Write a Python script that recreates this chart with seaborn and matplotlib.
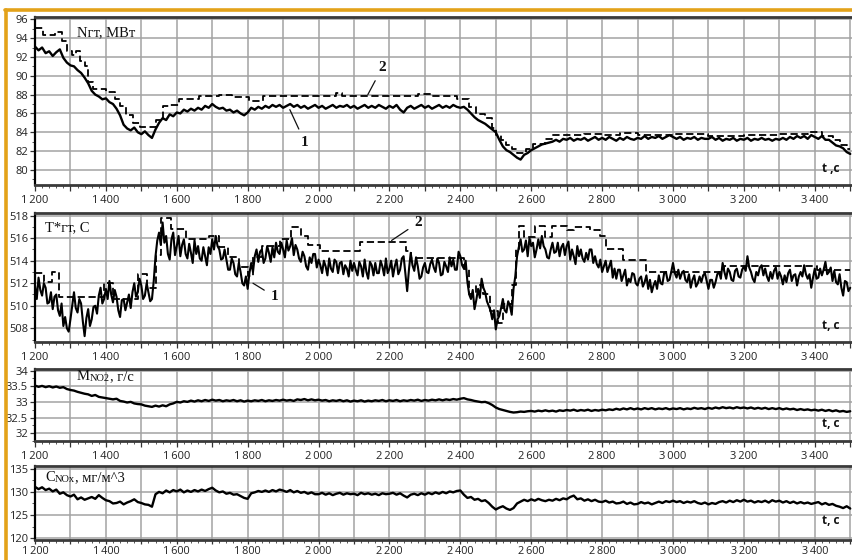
import numpy as np
import pandas as pd
import matplotlib
matplotlib.use("Agg")
import matplotlib.pyplot as plt
from matplotlib.ticker import MultipleLocator, FuncFormatter
from matplotlib.lines import Line2D
import seaborn as sns

# ---------------- data ----------------
t_start, t_end, t_step = 1200, 3500, 10
time_s = np.arange(t_start, t_end + 1, t_step)
time_mid = np.arange(t_start + 5, t_end, t_step)

# Panel 1: gas turbine power Nгт, MW (1 = measured, 2 = model, stepwise)
n_gt_1 = [
    93.1, 92.7, 93.0, 92.4, 92.6, 92.1, 92.5, 92.8, 91.9, 91.4,
    91.1, 91.0, 90.6, 90.3, 89.8, 89.2, 88.4, 88.0, 87.8, 87.5,
    87.6, 87.2, 87.0, 86.5, 85.8, 84.8, 84.4, 84.2, 84.5, 84.0,
    83.8, 84.1, 83.7, 83.4, 84.3, 85.0, 85.5, 85.3, 85.9, 85.7,
    86.1, 86.0, 86.4, 86.2, 86.5, 86.3, 86.6, 86.4, 86.8, 86.6,
    87.0, 86.7, 86.5, 86.6, 86.3, 86.4, 86.1, 86.3, 86.0, 85.8,
    86.1, 86.6, 86.4, 86.7, 86.5, 86.8, 86.6, 86.9, 86.7, 86.9,
    86.6, 86.8, 87.0, 86.7, 86.9, 86.6, 86.8, 86.5, 86.7, 86.9,
    86.6, 86.8, 86.5, 86.7, 86.9, 86.6, 86.8, 86.7, 86.9, 86.6,
    86.8, 86.5, 86.7, 86.9, 86.6, 86.8, 86.6, 86.9, 86.7, 86.5,
    86.8, 86.6, 86.9, 86.4, 86.1, 86.6, 86.8, 86.5, 86.7, 86.9,
    86.6, 86.8, 86.5, 86.7, 86.9, 86.6, 86.8, 86.6, 86.9, 86.7,
    86.6, 86.7, 86.4, 86.0, 85.6, 85.3, 85.1, 84.9, 84.6, 84.3,
    84.0, 83.2, 82.5, 82.1, 81.9, 81.6, 81.3, 81.1, 81.6, 81.8,
    82.1, 82.3, 82.5, 82.7, 82.8, 82.9, 83.0, 83.2, 83.0, 83.3,
    83.2, 83.4, 83.1, 83.3, 83.2, 83.4, 83.1, 83.3, 83.5, 83.2,
    83.4, 83.2, 83.5, 83.3, 83.1, 83.4, 83.2, 83.5, 83.3, 83.2,
    83.4, 83.3, 83.6, 83.3, 83.5, 83.4, 83.6, 83.3, 83.5, 83.7,
    83.5, 83.3, 83.5, 83.2, 83.4, 83.3, 83.5, 83.2, 83.4, 83.3,
    83.3, 83.5, 83.2, 83.4, 83.1, 83.3, 83.2, 83.4, 83.1, 83.3,
    83.2, 83.4, 83.1, 83.3, 83.2, 83.4, 83.2, 83.3, 83.1, 83.3,
    83.2, 83.4, 83.2, 83.5, 83.3, 83.6, 83.4, 83.6, 83.3, 83.7,
    83.5, 83.3, 83.6, 83.2, 83.2, 82.9, 82.6, 82.5, 82.3, 81.9,
    81.7,
]
n_gt_2_t = [1200, 1222, 1256, 1275, 1289, 1305, 1317, 1326, 1340, 1350,
            1364, 1400, 1425, 1439, 1458, 1476, 1495, 1540, 1560, 1579,
            1607, 1663, 1720, 1757, 1804, 1842, 2048, 2066, 2280, 2320,
            2345, 2390, 2425, 2445, 2470, 2488, 2500, 2515, 2530, 2545,
            2560, 2585, 2605, 2640, 2660, 2750, 2800, 2850, 2900, 3000,
            3100, 3200, 3300, 3380, 3420, 3450, 3470, 3490, 3500]
n_gt_2_v = [95.1, 94.3, 94.6, 93.7, 92.6, 92.2, 92.6, 91.6, 91.0, 89.3,
            88.6, 88.3, 87.5, 86.8, 85.8, 85.0, 84.6, 85.3, 86.8, 86.9,
            87.5, 87.8, 88.0, 87.7, 87.3, 87.9, 88.2, 87.8, 88.1, 87.8,
            87.8, 87.5, 86.7, 85.9, 85.5, 84.4, 83.7, 83.2, 82.6, 82.2,
            81.8, 82.2, 82.8, 83.3, 83.7, 83.8, 83.7, 83.9, 83.7, 83.8,
            83.6, 83.7, 83.8, 84.0, 83.6, 83.2, 82.6, 82.2, 82.2]

# Panel 2: gas temperature T*гт, C  (readings at whole and half steps)
t_gt_1 = [
    511.8, 512.5, 510.9, 511.6, 510.3, 509.7, 511.0, 509.1, 508.2, 508.0,
    508.8, 511.2, 509.4, 510.2, 507.3, 509.7, 508.8, 510.0, 510.9, 510.2,
    511.5, 512.2, 510.3, 510.8, 509.0, 510.6, 510.3, 509.8, 512.0, 511.2,
    511.8, 510.9, 511.2, 510.6, 514.4, 516.5, 517.4, 516.2, 514.1, 516.5,
    515.3, 514.4, 515.9, 514.2, 514.7, 515.8, 515.3, 514.0, 514.4, 515.2,
    515.9, 516.2, 515.0, 514.2, 514.1, 513.2, 513.8, 512.6, 513.0, 511.8,
    511.5, 513.8, 514.4, 513.9, 515.0, 514.2, 514.7, 515.2, 515.6, 514.6,
    515.0, 515.8, 515.3, 514.5, 515.0, 513.9, 514.4, 513.2, 513.8, 514.6,
    514.1, 512.9, 513.5, 514.2, 513.0, 513.9, 513.8, 512.8, 513.3, 514.0,
    513.8, 512.7, 513.5, 514.1, 512.4, 513.6, 513.8, 512.9, 513.5, 514.2,
    513.3, 512.6, 514.1, 513.2, 514.4, 511.3, 514.7, 513.1, 513.5, 512.6,
    513.8, 512.9, 514.1, 513.0, 513.8, 512.8, 513.5, 514.3, 514.1, 513.2,
    514.4, 513.3, 512.1, 510.6, 509.7, 511.5, 512.4, 511.2, 510.0, 508.8,
    507.9, 509.1, 510.6, 509.4, 510.0, 511.5, 514.4, 515.9, 515.0, 514.4,
    515.3, 514.3, 515.9, 516.2, 515.0, 514.2, 515.6, 514.8, 514.4, 515.5,
    515.3, 514.1, 514.4, 515.3, 515.0, 513.9, 514.1, 515.0, 514.4, 513.4,
    513.0, 514.0, 513.5, 512.5, 512.4, 513.2, 512.7, 511.8, 512.1, 512.8,
    511.8, 512.6, 512.1, 511.5, 511.2, 512.2, 512.7, 511.9, 513.0, 512.3,
    513.8, 512.5, 512.4, 513.1, 512.1, 511.6, 512.7, 512.0, 512.1, 512.9,
    511.5, 512.3, 512.1, 513.0, 513.8, 512.4, 513.0, 512.2, 513.3, 512.5,
    513.5, 514.4, 513.0, 512.1, 512.7, 513.6, 513.3, 512.2, 512.4, 513.4,
    513.0, 511.9, 512.1, 513.2, 512.7, 511.8, 513.0, 513.6, 512.4, 511.6,
    513.3, 512.5, 512.7, 513.9, 513.0, 512.2, 512.1, 512.8, 510.9, 512.1,
    511.6,
]
t_gt_1_mid = [
    510.6, 511.4, 512.0, 510.2, 511.2, 510.8, 509.6, 510.2, 509.0, 507.7,
    510.0, 509.8, 510.6, 508.6, 508.9, 508.2, 509.9, 509.3, 511.6, 510.6,
    510.6, 511.0, 511.4, 509.6, 510.5, 509.6, 511.0, 511.2, 510.8, 512.4,
    510.6, 512.0, 510.4, 512.2, 515.8, 515.4, 515.6, 514.6, 515.9, 514.5,
    516.2, 515.4, 514.6, 515.5, 513.8, 514.6, 514.2, 515.2, 513.6, 514.6,
    515.0, 515.3, 514.1, 515.0, 513.2, 514.2, 512.8, 513.8, 512.0, 512.6,
    512.9, 513.0, 515.0, 514.8, 513.8, 515.3, 513.9, 514.3, 514.8, 515.6,
    514.3, 514.9, 516.0, 515.4, 514.2, 514.8, 513.5, 514.3, 514.6, 513.4,
    513.6, 514.0, 512.7, 513.3, 514.1, 512.9, 513.9, 513.6, 512.6, 513.1,
    513.2, 513.9, 512.6, 513.0, 513.9, 512.7, 512.9, 514.0, 512.7, 512.9,
    514.0, 513.5, 512.8, 514.2, 512.8, 513.2, 513.6, 514.3, 512.4, 513.4,
    513.0, 513.7, 513.4, 514.2, 512.7, 513.9, 513.0, 513.5, 513.2, 514.8,
    513.6, 514.0, 511.0, 511.4, 510.5, 510.7, 511.6, 510.4, 509.6, 509.6,
    508.8, 509.8, 509.6, 510.4, 509.2, 512.6, 515.2, 514.8, 515.8, 516.0,
    515.6, 515.0, 515.1, 515.3, 514.3, 515.0, 514.7, 515.6, 515.2, 514.5,
    515.7, 515.0, 513.7, 514.4, 514.2, 514.7, 515.0, 513.8, 513.7, 514.1,
    513.5, 513.0, 514.0, 513.3, 513.2, 512.2, 513.2, 512.4, 512.9, 512.0,
    512.4, 511.7, 512.7, 512.3, 511.8, 511.5, 512.0, 512.9, 512.2, 513.0,
    512.9, 513.2, 512.9, 512.3, 512.8, 512.3, 511.7, 512.6, 512.7, 512.2,
    512.3, 511.6, 512.8, 512.4, 513.0, 513.3, 512.3, 513.1, 512.6, 513.2,
    513.1, 513.4, 512.4, 513.0, 513.4, 512.7, 512.6, 513.0, 513.1, 512.4,
    512.6, 512.7, 512.9, 512.2, 512.8, 512.6, 512.6, 512.8, 512.8, 512.5,
    512.4, 513.3, 513.2, 512.8, 513.4, 513.1, 511.9, 511.6, 512.2, 511.3,
]
t_gt_2_t = [1200, 1225, 1248, 1268, 1395, 1420, 1490, 1515, 1540, 1555,
            1585, 1625, 1690, 1720, 1745, 1775, 1800, 1815, 1840, 1890,
            1922, 1950, 1970, 2005, 2117, 2248, 2262, 2410, 2425, 2445,
            2465, 2485, 2505, 2520, 2545, 2558, 2565, 2580, 2610, 2640,
            2660, 2700, 2720, 2765, 2795, 2810, 2860, 2925, 3143, 3405,
            3500]
t_gt_2_v = [512.9, 512.1, 513.0, 510.8, 512.0, 510.6, 512.8, 511.6, 514.5, 517.8,
            516.8, 515.9, 516.2, 515.2, 514.3, 513.4, 512.6, 514.3, 515.3, 515.9,
            517.0, 516.2, 515.4, 514.9, 515.7, 514.9, 514.2, 513.3, 511.0, 511.8,
            511.0, 509.5, 508.5, 510.2, 511.8, 515.0, 517.1, 516.1, 517.1, 516.1,
            517.1, 516.7, 517.0, 516.7, 516.2, 515.0, 514.1, 513.0, 513.5, 513.2,
            513.2]

# Panel 3: NO2 mass flow, g/s
m_no2 = [
    33.52, 33.48, 33.51, 33.47, 33.50, 33.46, 33.49, 33.45, 33.47, 33.41,
    33.38, 33.36, 33.32, 33.29, 33.26, 33.24, 33.19, 33.22, 33.16, 33.14,
    33.12, 33.10, 33.08, 33.10, 33.03, 33.01, 32.98, 33.00, 32.95, 32.93,
    32.92, 32.88, 32.86, 32.84, 32.88, 32.85, 32.89, 32.86, 32.92, 32.95,
    33.00, 32.98, 33.02, 33.00, 33.04, 33.01, 33.05, 33.02, 33.06, 33.03,
    33.07, 33.04, 33.06, 33.02, 33.05, 33.03, 33.06, 33.02, 33.05, 33.01,
    33.04, 33.02, 33.05, 33.03, 33.06, 33.02, 33.05, 33.03, 33.06, 33.04,
    33.07, 33.04, 33.06, 33.03, 33.08, 33.06, 33.09, 33.05, 33.08, 33.05,
    33.07, 33.04, 33.06, 33.02, 33.05, 33.03, 33.06, 33.02, 33.05, 33.01,
    33.04, 33.02, 33.05, 33.01, 33.04, 33.02, 33.05, 33.03, 33.06, 33.02,
    33.05, 33.03, 33.06, 33.02, 33.05, 33.03, 33.06, 33.04, 33.07, 33.03,
    33.06, 33.04, 33.07, 33.05, 33.08, 33.05, 33.08, 33.06, 33.09, 33.07,
    33.10, 33.12, 33.08, 33.06, 33.03, 33.01, 32.99, 33.00, 32.96, 32.90,
    32.82, 32.77, 32.74, 32.71, 32.68, 32.66, 32.67, 32.69, 32.68, 32.70,
    32.71, 32.69, 32.72, 32.70, 32.73, 32.70, 32.72, 32.69, 32.73, 32.71,
    32.74, 32.72, 32.75, 32.71, 32.74, 32.72, 32.75, 32.71, 32.74, 32.72,
    32.75, 32.73, 32.76, 32.74, 32.78, 32.75, 32.79, 32.76, 32.80, 32.76,
    32.79, 32.76, 32.80, 32.77, 32.80, 32.76, 32.79, 32.77, 32.80, 32.76,
    32.79, 32.77, 32.80, 32.76, 32.79, 32.77, 32.81, 32.78, 32.80, 32.77,
    32.81, 32.78, 32.82, 32.79, 32.83, 32.80, 32.82, 32.79, 32.83, 32.80,
    32.82, 32.79, 32.82, 32.78, 32.81, 32.78, 32.81, 32.77, 32.80, 32.77,
    32.80, 32.76, 32.79, 32.76, 32.78, 32.74, 32.77, 32.74, 32.76, 32.73,
    32.75, 32.72, 32.75, 32.71, 32.74, 32.70, 32.73, 32.69, 32.71, 32.68,
    32.70,
]

# Panel 4: NOx concentration, mg/m^3
c_nox = [
    131.1, 130.6, 131.0, 130.4, 130.7, 130.1, 130.5, 129.6, 129.9, 129.3,
    129.0, 129.4, 128.4, 128.8, 128.3, 128.6, 128.9, 128.5, 129.3, 128.7,
    128.2, 128.0, 127.5, 127.6, 127.9, 127.3, 127.7, 128.0, 128.4, 127.8,
    127.6, 127.3, 127.2, 126.8, 129.5, 130.0, 129.7, 130.3, 129.9, 130.4,
    130.1, 130.5, 129.9, 130.3, 130.0, 130.4, 130.1, 130.5, 130.2, 130.6,
    130.9, 130.3, 129.9, 130.1, 129.6, 129.8, 129.4, 129.5, 129.1, 128.7,
    128.5, 129.7, 129.9, 130.2, 130.0, 130.3, 130.0, 130.4, 130.1, 130.5,
    130.3, 130.0, 130.4, 129.9, 130.2, 129.8, 130.0, 129.6, 129.9, 129.5,
    129.5, 129.8, 129.4, 129.7, 129.3, 129.6, 129.8, 129.4, 129.7, 129.5,
    129.6, 129.3, 129.8, 129.5, 129.7, 129.4, 129.6, 129.3, 129.7, 129.5,
    129.6, 129.8, 129.4, 129.7, 129.2, 128.8, 129.4, 129.6, 129.3, 129.7,
    129.4, 129.8, 129.5, 129.9, 129.6, 130.0, 129.7, 130.1, 129.9, 130.2,
    130.3, 129.4, 128.7, 128.9, 128.3, 128.5, 128.0, 128.2, 127.6, 126.8,
    126.2, 126.6, 126.9, 126.4, 126.1, 126.5, 127.5, 127.9, 128.3, 128.0,
    128.4, 128.1, 128.5, 128.2, 128.0, 128.3, 128.1, 128.5, 128.2, 128.6,
    128.4, 128.9, 129.2, 128.4, 128.6, 128.1, 128.4, 128.0, 128.3, 127.9,
    127.8, 128.1, 127.7, 127.9, 127.5, 127.6, 127.9, 127.4, 127.7, 127.3,
    127.4, 127.8, 127.5, 127.7, 127.3, 127.6, 127.9, 127.6, 128.0, 127.8,
    128.1, 127.8, 128.0, 127.6, 127.9, 127.7, 128.0, 127.6, 127.4, 127.7,
    127.3, 127.6, 127.4, 127.8, 128.0, 127.7, 128.1, 127.8, 128.2, 127.9,
    128.3, 127.9, 128.1, 127.7, 128.0, 127.8, 128.1, 127.7, 128.2, 127.9,
    128.1, 127.7, 128.0, 127.6, 127.9, 127.5, 127.8, 127.5, 127.7, 127.4,
    127.6, 127.8, 127.3, 127.6, 127.2, 127.4, 127.0, 126.8, 126.5, 126.9,
    126.4,
]

panel_titles = ["Nгт, МВт", "T*гт, С", ("M", "NO2", ", г/с"), ("C", "NOx", ", мг/м^3")]
axis_labels = ["t ,c", "t, c", "t, c", "t, c"]
y_ticks = [[80, 82, 84, 86, 88, 90, 92, 94, 96],
           [508, 510, 512, 514, 516, 518],
           [32, 32.5, 33, 33.5, 34],
           [120, 125, 130, 135]]
y_limits = [(78.4, 96.24), (506.78, 518.24), (31.75, 34.05), (119.6, 135.6)]
y_minor = [1, 1, 0.25, 2.5]

# ---------------- style ----------------
sns.set_theme(style="white")
plt.rcParams["font.family"] = ["Open Sans", "DejaVu Sans"]
SERIF = ["Liberation Serif", "DejaVu Serif"]
GRID = "#a3a3a3"

fig = plt.figure(figsize=(8.52, 5.6), dpi=100)
fig.patch.set_facecolor("white")

H = 560.0
L = 35 / 852
W = 1 - L
panel_px = [(17, 185), (213, 342), (369, 441), (466, 540)]
axes = []
for top, bot in panel_px:
    ax = fig.add_axes([L, (H - bot) / H, W, (bot - top) / H])
    axes.append(ax)

def xfmt(x, pos):
    xi = int(round(x))
    if xi % 200 == 0:
        return f"{xi:,}".replace(",", "\u2009")
    return ""

def yfmt(y, pos):
    return f"{y:g}"

for i, ax in enumerate(axes):
    last = i == 3
    ax.set_facecolor("white")
    ax.set_xlim(1200, 3505)
    ax.set_ylim(*y_limits[i])
    ax.xaxis.set_major_locator(MultipleLocator(100))
    ax.xaxis.set_minor_locator(MultipleLocator(20))
    ax.xaxis.set_major_formatter(FuncFormatter(xfmt))
    ax.set_yticks(y_ticks[i])
    ax.yaxis.set_minor_locator(MultipleLocator(y_minor[i]))
    ax.yaxis.set_major_formatter(FuncFormatter(yfmt))
    ax.grid(True, which="major", color=GRID, lw=1.1)
    ax.tick_params(axis="x", which="major", direction="out",
                   length=3 if last else 4, width=0.9,
                   color="#333333", labelsize=7.8 if last else 8,
                   labelcolor="#222222", pad=1 if last else 3)
    ax.tick_params(axis="x", which="minor", direction="out", length=2.5, width=0.7,
                   color="#555555")
    ax.tick_params(axis="y", which="major", direction="out", length=3.5, width=0.9,
                   color="#333333", labelsize=8, labelcolor="#222222", pad=1.5)
    ax.tick_params(axis="y", which="minor", direction="out", length=2, width=0.7,
                   color="#555555")
    ax.tick_params(bottom=True, left=True, which="both")
    for s in ["top", "bottom"]:
        ax.spines[s].set_color("#3a3a3a")
        ax.spines[s].set_linewidth(2.0)
    ax.spines["left"].set_color("black")
    ax.spines["left"].set_linewidth(1.6)
    ax.spines["right"].set_visible(False)

# ---------------- lines ----------------
df_temp = pd.concat([
    pd.DataFrame({"t": time_s, "v": t_gt_1}),
    pd.DataFrame({"t": time_mid, "v": t_gt_1_mid}),
]).sort_values("t")

solid_frames = [
    pd.DataFrame({"t": time_s, "v": n_gt_1}),
    df_temp,
    pd.DataFrame({"t": time_s, "v": m_no2}),
    pd.DataFrame({"t": time_s, "v": c_nox}),
]
lws = [1.7, 1.5, 1.7, 1.7]
for i, ax in enumerate(axes):
    sns.lineplot(data=solid_frames[i], x="t", y="v", ax=ax, color="black", lw=lws[i],
                 estimator=None, sort=True, legend=False, zorder=3)

for ax, tt, vv in [(axes[0], n_gt_2_t, n_gt_2_v), (axes[1], t_gt_2_t, t_gt_2_v)]:
    df = pd.DataFrame({"t": tt, "v": vv})
    sns.lineplot(data=df, x="t", y="v", ax=ax, color="black", lw=1.3,
                 estimator=None, legend=False, drawstyle="steps-post",
                 linestyle=(0, (4, 2)), zorder=4)

for ax in axes:
    ax.set_xlabel("")
    ax.set_ylabel("")

# ---------------- texts ----------------
renderer = fig.canvas.get_renderer()
title_pos = [(0.0514, 0.905), (0.0122, 0.885), (0.0514, 0.89), (0.0122, 0.84)]
for i, ax in enumerate(axes):
    x, y = title_pos[i]
    tl = panel_titles[i]
    if isinstance(tl, str):
        ax.text(x, y, tl, transform=ax.transAxes, family=SERIF, fontsize=10.5,
                ha="left", va="center", color="#111111", zorder=6)
    else:
        t1 = ax.text(x, y, tl[0], transform=ax.transAxes, family=SERIF, fontsize=10.5,
                     ha="left", va="center", color="#111111", zorder=6)
        t2 = ax.annotate(tl[1], xy=(1.0, 0.0), xycoords=t1, family=SERIF, fontsize=7.5,
                         ha="left", va="bottom", color="#111111", zorder=6)
        ax.annotate(tl[2], xy=(1.0, 0.0), xycoords=t1,
                    xytext=(t2.get_window_extent(renderer).width, 0),
                    textcoords="offset pixels", family=SERIF, fontsize=10.5,
                    ha="left", va="bottom", color="#111111", zorder=6)

xl_pos = [(0.985, 0.06), (0.985, 0.075), (0.985, 0.15), (0.985, 0.17)]
for i, ax in enumerate(axes):
    x, y = xl_pos[i]
    ax.text(x, y, axis_labels[i], transform=ax.transAxes, fontsize=8.5,
            fontweight="bold", ha="right", va="bottom", color="#111111", zorder=6)

# curve labels with leader lines
lbl = dict(family=SERIF, fontsize=11, fontweight="bold", color="#111111",
           ha="center", va="center",
           arrowprops=dict(arrowstyle="-", lw=0.9, color="#111111", shrinkA=3, shrinkB=0))
axes[0].annotate("2", xy=(2139, 88.0), xytext=(2180, 90.9), **lbl)
axes[0].annotate("1", xy=(1919, 86.4), xytext=(1962, 82.9), **lbl)
axes[1].annotate("2", xy=(2206, 515.8), xytext=(2282, 517.4), **lbl)
axes[1].annotate("1", xy=(1815, 512.0), xytext=(1877, 510.8), **lbl)

# orange frame of the figure
fig.add_artist(Line2D([5 / 852, 1.0], [1 - 10 / H, 1 - 10 / H], transform=fig.transFigure,
                      color="#e3a21a", lw=2.6))
fig.add_artist(Line2D([6 / 852, 6 / 852], [0.0, 1 - 10 / H], transform=fig.transFigure,
                      color="#e3a21a", lw=2.6))

fig.savefig("out.png", dpi=100, facecolor="white")
